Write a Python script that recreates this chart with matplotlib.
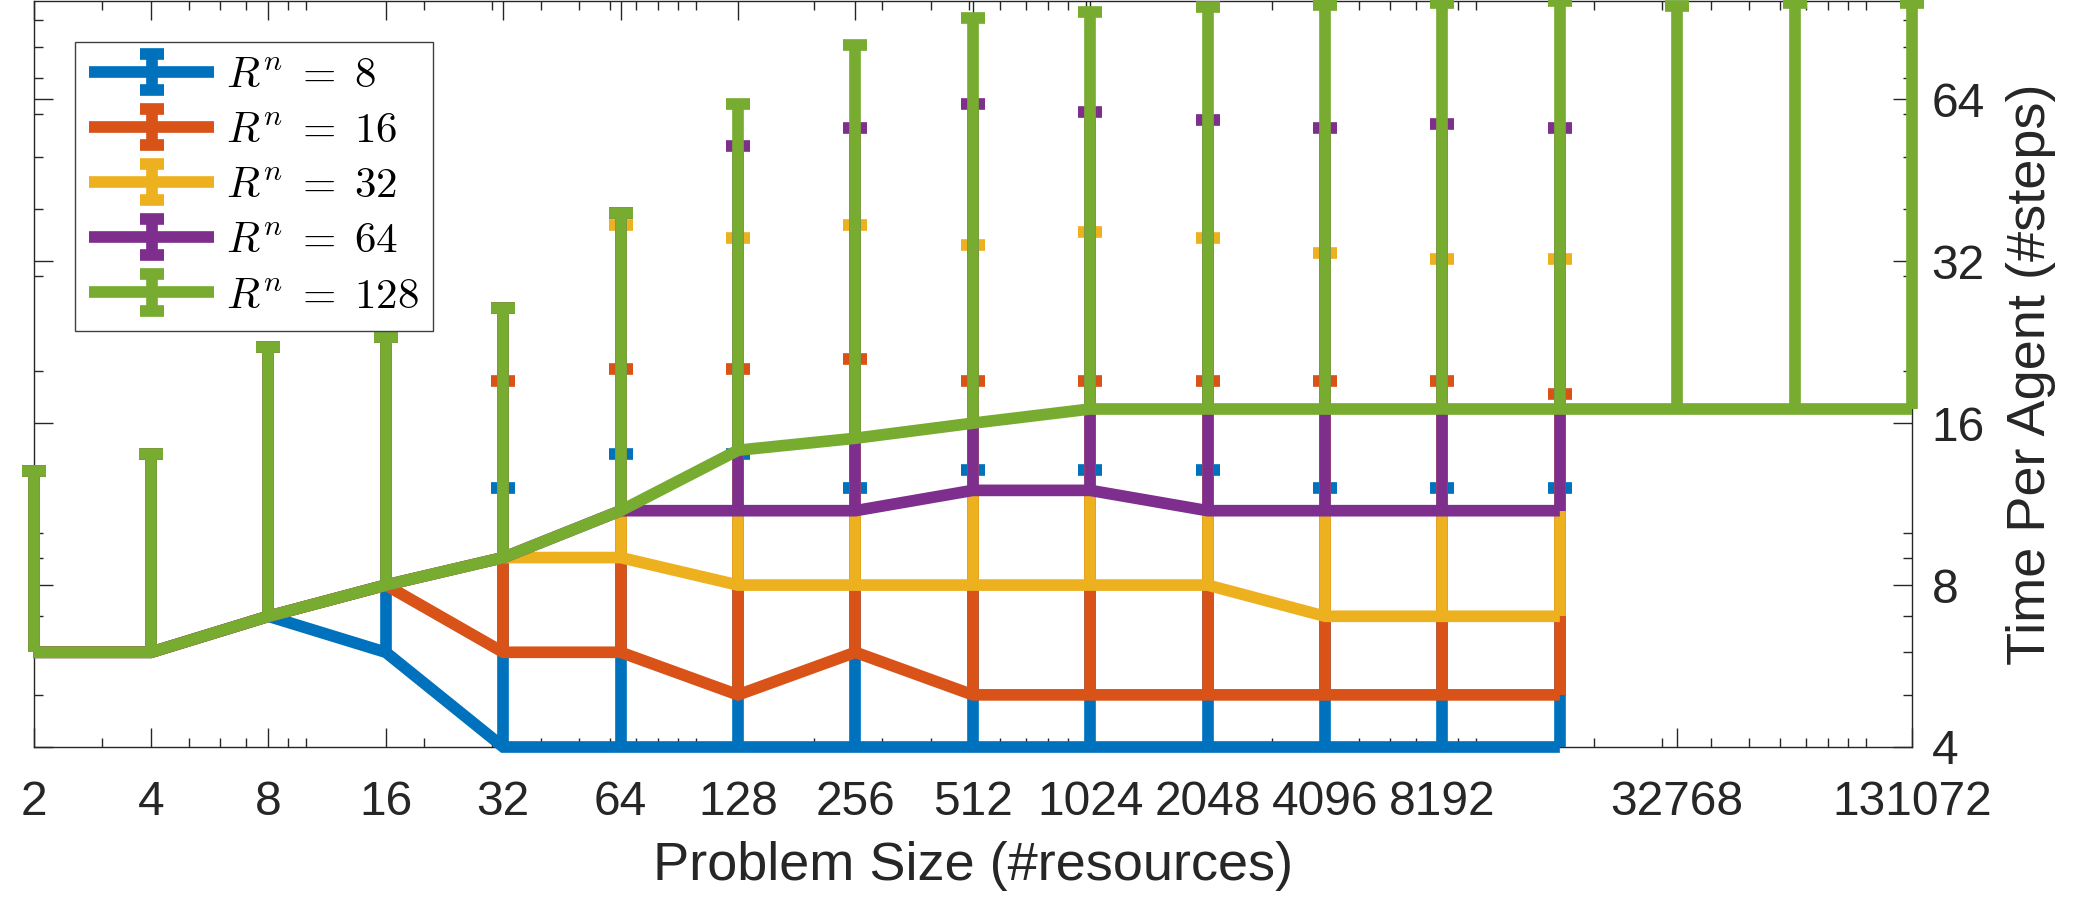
import numpy as np
import matplotlib
matplotlib.use('Agg')
import matplotlib.pyplot as plt
from matplotlib.ticker import FixedLocator, LogLocator, NullFormatter
from matplotlib.container import ErrorbarContainer
from matplotlib.legend_handler import HandlerErrorbar

plt.rcParams['font.family'] = ['Liberation Sans', 'DejaVu Sans']
plt.rcParams['mathtext.fontset'] = 'cm'

# problem sizes (#resources)
sizes = [2, 4, 8, 16, 32, 64, 128, 256, 512, 1024, 2048, 4096, 8192, 16384]
sizes_128 = sizes + [32768, 65536, 131072]

# mean time per agent and top of the error bar
r8_mean = [6, 6, 7, 6, 4, 4, 4, 4, 4, 4, 4, 4, 4, 4]
r8_upper = [13.05, 14.0, 22.2, 23.1, 12.1, 14.0, 14.0, 12.1, 13.1, 13.1, 13.1, 12.1, 12.1, 12.1]

r16_mean = [6, 6, 7, 8, 6, 6, 5, 6, 5, 5, 5, 5, 5, 5]
r16_upper = [13.05, 14.0, 22.2, 23.1, 19.2, 20.2, 20.2, 21.1, 19.2, 19.2, 19.2, 19.2, 19.2, 18.1]

r32_mean = [6, 6, 7, 8, 9, 9, 8, 8, 8, 8, 8, 7, 7, 7]
r32_upper = [13.05, 14.0, 22.2, 23.1, 26.2, 37.3, 35.3, 37.3, 34.3, 36.3, 35.3, 33.2, 32.3, 32.3]

r64_mean = [6, 6, 7, 8, 9, 11, 11, 11, 12, 12, 11, 11, 11, 11]
r64_upper = [13.05, 14.0, 22.2, 23.1, 26.2, 39.3, 52.4, 56.5, 62.6, 60.5, 58.5, 56.5, 57.5, 56.5]

r128_mean = [6, 6, 7, 8, 9, 11, 14.25, 15, 16, 17, 17, 17, 17, 17, 17, 17, 17]
r128_upper = [13.05, 14.0, 22.2, 23.1, 26.2, 39.3, 62.6, 80.6, 90.7, 92.9, 95.0, 96.0, 96.5, 97.5, 95.5, 96.5, 96.5]

labels = [r'$R^n \;=\; 8$', r'$R^n \;=\; 16$', r'$R^n \;=\; 32$', r'$R^n \;=\; 64$', r'$R^n \;=\; 128$']
colors = ['#0072BD', '#D95319', '#EDB120', '#7E2F8E', '#77AC30']

x_ticks = [2, 4, 8, 16, 32, 64, 128, 256, 512, 1024, 2048, 4096, 8192, 32768, 131072]
y_ticks = [4, 8, 16, 32, 64]

series = [
    (sizes, r8_mean, r8_upper),
    (sizes, r16_mean, r16_upper),
    (sizes, r32_mean, r32_upper),
    (sizes, r64_mean, r64_upper),
    (sizes_128, r128_mean, r128_upper),
]

fig = plt.figure(figsize=(21, 9), dpi=100)
ax = fig.add_axes([0.016, 0.17, 0.8945, 0.8289])
ax.set_xscale('log', base=2)
ax.set_yscale('log', base=2)

lw = 8.4
for i, (x, m, up) in enumerate(series):
    m = np.array(m, dtype=float)
    up = np.array(up, dtype=float)
    eb = ax.errorbar(x, m, yerr=[np.zeros_like(m), up - m], color=colors[i],
                     lw=lw, elinewidth=lw, capsize=8.8, capthick=lw,
                     label=labels[i], zorder=3 + i)
    line, caps, bars = eb.lines
    caps[0].remove()   # only the upper error is drawn
    line.set_clip_on(False)
    line.set_solid_joinstyle('miter')
    line.set_solid_capstyle('butt')
    caps[1].set_clip_on(False)
    for b in bars:
        b.set_clip_on(False)
        b.set_capstyle('butt')

ax.set_xlim(2, 131072)
ax.set_ylim(4, 97.5)

tc = '#262626'
ax.xaxis.set_major_locator(FixedLocator(x_ticks))
ax.set_xticklabels([str(v) for v in x_ticks])
ax.xaxis.set_minor_locator(LogLocator(base=10, subs=np.arange(1, 10), numticks=60))
ax.xaxis.set_minor_formatter(NullFormatter())
ax.yaxis.set_major_locator(FixedLocator(y_ticks))
ax.set_yticklabels([str(v) for v in y_ticks])
ax.yaxis.set_minor_locator(LogLocator(base=10, subs=np.arange(1, 10), numticks=60))
ax.yaxis.set_minor_formatter(NullFormatter())

ax.tick_params(which='both', direction='in', top=True, bottom=True, left=True, right=True,
               labelleft=False, labelright=True, color=tc, labelcolor=tc, width=1.0)
ax.tick_params(which='major', length=13.7, labelsize=34.5)
ax.tick_params(which='minor', length=6.7)
ax.tick_params(axis='x', which='major', pad=24)
ax.tick_params(axis='y', which='major', pad=14)
for s in ax.spines.values():
    s.set_color(tc)
    s.set_linewidth(1.0)

ax.set_xlabel('Problem Size (#resources)', fontsize=39, color=tc)
ax.xaxis.set_label_coords(0.5, -0.126)
ax.yaxis.set_label_position('right')
ax.set_ylabel('Time Per Agent (#steps)', fontsize=39, color=tc)
ax.yaxis.set_label_coords(1.050, 0.5)

leg = ax.legend(loc='upper left', bbox_to_anchor=(0.0221, 0.945), borderaxespad=0,
                fontsize=31, handlelength=2.9, handletextpad=0.28, borderpad=0.33,
                labelspacing=0.35, fancybox=False, framealpha=1, edgecolor='#404040',
                handler_map={ErrorbarContainer: HandlerErrorbar(yerr_size=0.42)})
leg.get_frame().set_linewidth(1.0)
leg.set_zorder(20)

fig.savefig('out.png', dpi=100)
